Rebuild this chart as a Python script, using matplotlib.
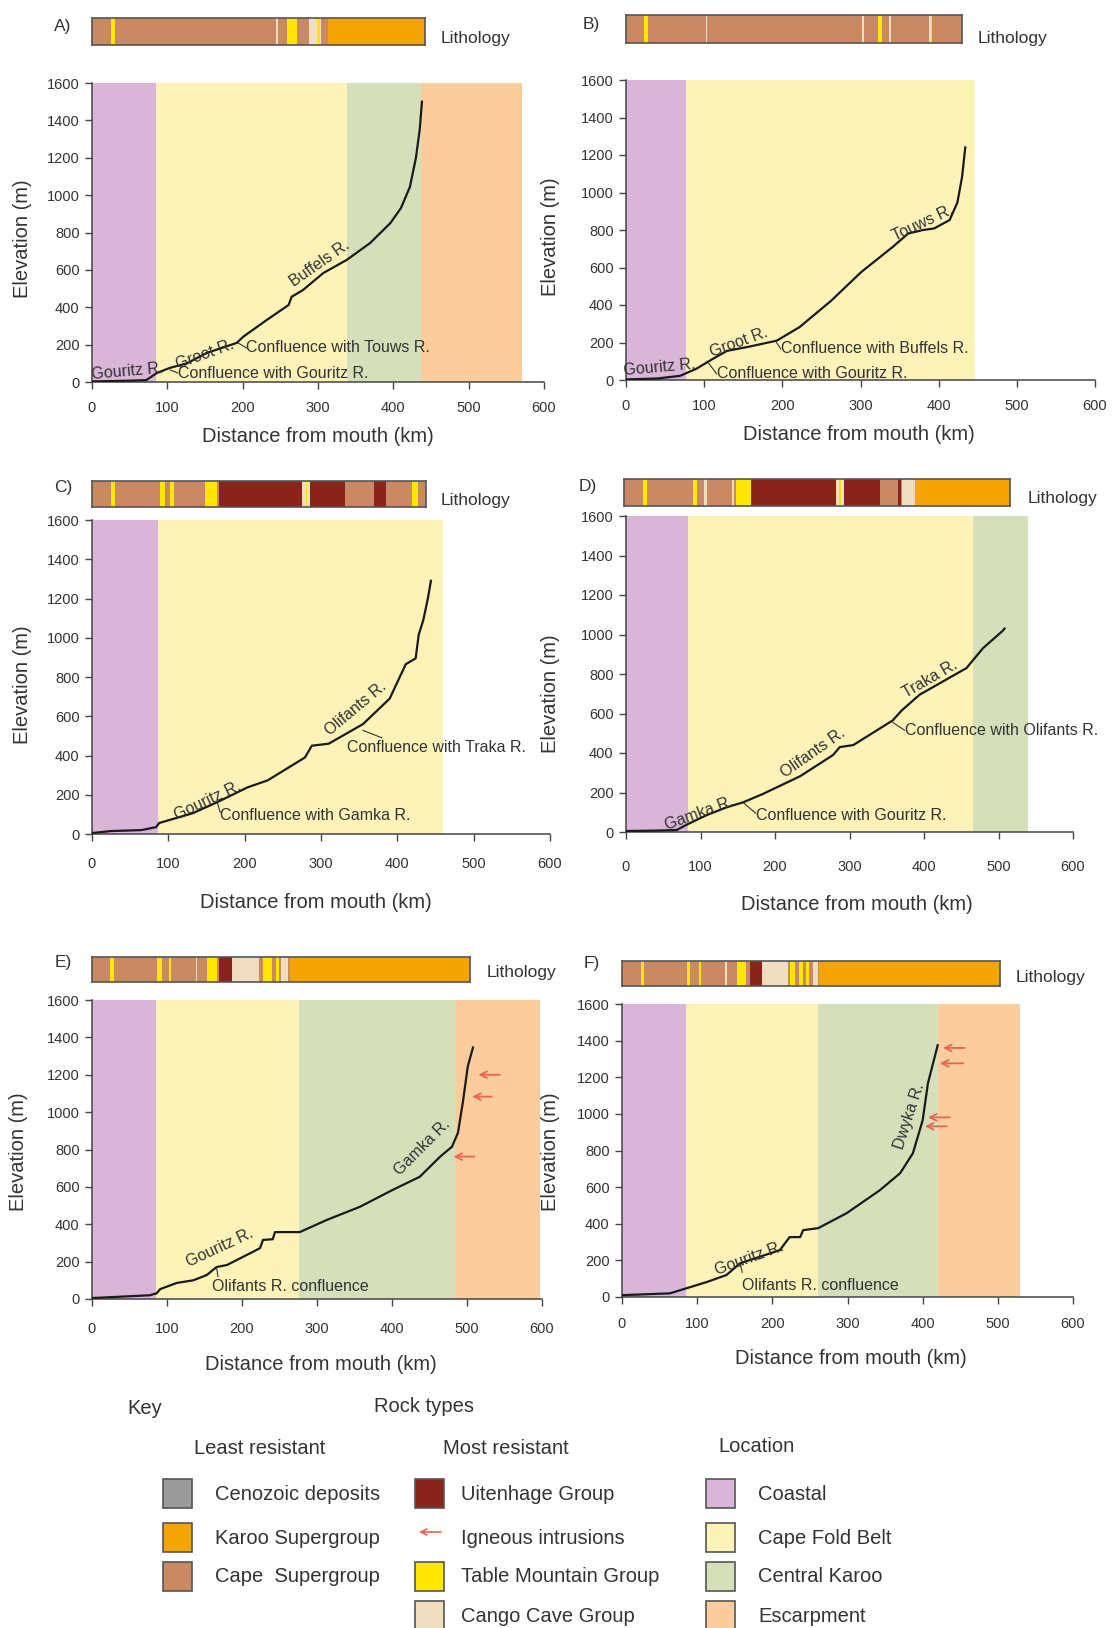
import matplotlib

matplotlib.use("Agg")
import matplotlib.pyplot as plt
from matplotlib.patches import Rectangle

plt.rcParams["font.family"] = ["Liberation Sans", "DejaVu Sans"]

W, H = 1113, 1628
TXT = "#333333"

# --- colours ---
LOC_COLORS = {"coastal": "#d9b5d8", "fold": "#fdf3b9", "karoo": "#d5e0ba", "escarp": "#fbcd9c"}
ROCK_COLORS = {"ceno": "#9b9b9b", "karoo": "#f5a400", "cape": "#c98962",
               "uit": "#8a2319", "tmg": "#ffe600", "cango": "#efdfc0"}
ARROW_RED = "#e8654f"

# --- long profiles (km from mouth, elevation m) ---
A_KM = [0, 40, 72, 86, 103, 126, 152, 192, 201, 232, 261, 265, 280, 307, 338, 369, 396, 410, 422, 430, 435, 438]
A_ELEV = [3, 6, 10, 48, 75, 100, 155, 209, 243, 332, 412, 456, 492, 583, 653, 743, 850, 930, 1044, 1200, 1350, 1500]

B_KM = [0, 40, 69, 90, 110, 129, 160, 193, 222, 262, 301, 341, 361, 380, 394, 414, 424, 430, 434]
B_ELEV = [3, 8, 22, 60, 110, 155, 180, 210, 282, 421, 576, 709, 781, 800, 808, 853, 947, 1085, 1240]

C_KM = [0, 25, 65, 84, 88, 110, 132, 164, 204, 230, 279, 288, 310, 355, 390, 411, 424, 428, 434, 440, 444]
C_ELEV = [5, 15, 20, 35, 56, 81, 106, 162, 238, 273, 390, 450, 460, 560, 690, 865, 895, 1015, 1090, 1200, 1290]

D_KM = [0, 40, 68, 83, 108, 135, 157, 184, 234, 278, 287, 305, 358, 370, 394, 457, 479, 506, 508]
D_ELEV = [5, 7, 10, 40, 85, 125, 150, 193, 283, 390, 430, 440, 565, 615, 695, 830, 930, 1020, 1030]

E_KM = [0, 77, 86, 91, 113, 135, 153, 166, 180, 206, 224, 228, 241, 244, 277, 313, 357, 401, 437, 464,
        480, 488, 495, 501, 508]
E_ELEV = [5, 20, 30, 53, 86, 100, 128, 171, 182, 235, 272, 316, 320, 358, 358, 423, 493, 584, 654, 761,
          815, 890, 1067, 1244, 1346]

F_KM = [0, 64, 86, 113, 139, 157, 210, 223, 237, 241, 261, 299, 343, 370, 387, 400, 407, 420]
F_ELEV = [10, 20, 48, 82, 120, 184, 256, 327, 327, 365, 376, 458, 583, 676, 785, 965, 1167, 1375]

# --- location zones: edges (km) and names ---
A_ZONE_EDGES = [0, 85, 338, 437, 571]
B_ZONE_EDGES = [0, 77, 447]
C_ZONE_EDGES = [0, 86, 460]
D_ZONE_EDGES = [0, 83, 466, 540]
E_ZONE_EDGES = [0, 85, 276, 485, 597]
F_ZONE_EDGES = [0, 85, 261, 420, 529]
ZONE_NAMES = ["coastal", "fold", "karoo", "escarp"]

# --- lithology strips: (start, end) as fraction of strip, rock type; base is Cape Supergroup ---
A_LITH = [(0.057, 0.070, "tmg"), (0.554, 0.559, "cango"), (0.587, 0.616, "tmg"), (0.652, 0.688, "cango"),
          (0.675, 0.685, "tmg"), (0.710, 1.0, "karoo")]
B_LITH = [(0.054, 0.065, "tmg"), (0.238, 0.242, "cango"), (0.702, 0.707, "cango"), (0.751, 0.762, "tmg"),
          (0.783, 0.790, "cango"), (0.901, 0.907, "cango"), (0.907, 0.912, "tmg")]
C_LITH = [(0.056, 0.070, "tmg"), (0.205, 0.219, "tmg"), (0.235, 0.246, "tmg"), (0.337, 0.374, "tmg"),
          (0.380, 0.629, "uit"), (0.629, 0.652, "cango"), (0.640, 0.645, "tmg"), (0.652, 0.757, "uit"),
          (0.843, 0.880, "uit"), (0.957, 0.975, "tmg")]
D_LITH = [(0.050, 0.059, "tmg"), (0.179, 0.190, "tmg"), (0.206, 0.215, "cango"), (0.279, 0.284, "cango"),
          (0.290, 0.330, "tmg"), (0.330, 0.548, "uit"), (0.550, 0.570, "cango"), (0.556, 0.561, "tmg"),
          (0.570, 0.662, "uit"), (0.709, 0.718, "uit"), (0.721, 0.753, "cango"), (0.753, 1.0, "karoo")]
E_LITH = [(0.047, 0.058, "tmg"), (0.173, 0.186, "tmg"), (0.203, 0.209, "tmg"), (0.274, 0.278, "cango"),
          (0.305, 0.332, "tmg"), (0.335, 0.370, "uit"), (0.370, 0.443, "cango"), (0.453, 0.476, "tmg"),
          (0.488, 0.495, "tmg"), (0.500, 0.519, "cango"), (0.524, 1.0, "karoo")]
F_LITH = [(0.049, 0.058, "tmg"), (0.172, 0.181, "tmg"), (0.203, 0.209, "tmg"), (0.272, 0.277, "cango"),
          (0.305, 0.328, "tmg"), (0.338, 0.370, "uit"), (0.370, 0.440, "cango"), (0.445, 0.457, "tmg"),
          (0.468, 0.479, "tmg"), (0.487, 0.496, "tmg"), (0.505, 0.519, "cango"), (0.522, 1.0, "karoo")]

# --- river labels: text, km, m, rotation, ha ---
A_LABELS = [("Gouritz R.", 0, 40, 5, "left"), ("Groot R.", 150, 150, 20, "center"),
            ("Buffels R.", 303, 636, 35, "center"),
            ("Confluence with Touws R.", 205, 182, 0, "left"),
            ("Confluence with Gouritz R.", 114, 48, 0, "left")]
A_LEADERS = [((194, 209), (205, 182)), ((104, 64), (114, 48))]
B_LABELS = [("Gouritz R.", -3, 50, 5, "left"), ("Groot R.", 145, 200, 20, "center"),
            ("Touws R.", 380, 836, 25, "center"),
            ("Confluence with Buffels R.", 198, 166, 0, "left"),
            ("Confluence with Gouritz R.", 116, 33, 0, "left")]
B_LEADERS = [((191, 210), (198, 166)), ((106, 88), (116, 33))]
C_LABELS = [("Gouritz R.", 152, 170, 25, "center"), ("Olifants R.", 345, 640, 40, "center"),
            ("Confluence with Traka R.", 334, 440, 0, "left"),
            ("Confluence with Gamka R.", 168, 96, 0, "left")]
C_LEADERS = [((355, 528), (380, 490)), ((164, 162), (168, 110))]
D_LABELS = [("Gamka R.", 99, 95, 20, "center"), ("Olifants R.", 251, 400, 35, "center"),
            ("Traka R.", 408, 775, 30, "center"),
            ("Confluence with Olifants R.", 374, 515, 0, "left"),
            ("Confluence with Gouritz R.", 174, 85, 0, "left")]
D_LEADERS = [((358, 555), (374, 515)), ((157, 150), (174, 95))]
E_LABELS = [("Gouritz R.", 171, 275, 25, "center"), ("Gamka R.", 440, 810, 45, "center"),
            ("Olifants R. confluence", 160, 65, 0, "left")]
E_LEADERS = [((166, 171), (168, 120))]
F_LABELS = [("Gouritz R.", 170, 210, 20, "center"), ("Dwyka R.", 383, 990, 72, "center"),
            ("Olifants R. confluence", 160, 65, 0, "left")]
F_LEADERS = [((157, 184), (160, 135))]

# --- igneous intrusion arrows: head km, elevation m, tail km ---
E_ARROWS = [(515, 1200, 544), (507, 1083, 533), (482, 762, 510)]
F_ARROWS = [(427, 1360, 456), (423, 1276, 454), (407, 981, 436), (403, 932, 432)]

# --- layout (pixels): plot box, strip box, text anchors ---
PANELS = [
    dict(tag="A)", km=A_KM, el=A_ELEV, zones=A_ZONE_EDGES, lith=A_LITH, labels=A_LABELS, leaders=A_LEADERS,
         arrows=[], box=(92, 83, 544, 382), strip=(92, 18, 425, 45), tag_xy=(63, 26), lith_xy=(441, 38),
         xl=(318, 437), yl=(23, 239), pad=8.5),
    dict(tag="B)", km=B_KM, el=B_ELEV, zones=B_ZONE_EDGES, lith=B_LITH, labels=B_LABELS, leaders=B_LEADERS,
         arrows=[], box=(626, 80, 1095, 380), strip=(626, 15, 962, 43), tag_xy=(591, 25), lith_xy=(978, 38),
         xl=(859, 434), yl=(550, 237), pad=8.5),
    dict(tag="C)", km=C_KM, el=C_ELEV, zones=C_ZONE_EDGES, lith=C_LITH, labels=C_LABELS, leaders=C_LEADERS,
         arrows=[], box=(92, 520, 550, 834), strip=(92, 481, 426, 507), tag_xy=(63, 488), lith_xy=(441, 500),
         xl=(316, 902), yl=(23, 685), pad=11.5),
    dict(tag="D)", km=D_KM, el=D_ELEV, zones=D_ZONE_EDGES, lith=D_LITH, labels=D_LABELS, leaders=D_LEADERS,
         arrows=[], box=(626, 516, 1073, 832), strip=(624, 479, 1010, 506), tag_xy=(588, 486), lith_xy=(1028, 498),
         xl=(857, 904), yl=(550, 694), pad=15),
    dict(tag="E)", km=E_KM, el=E_ELEV, zones=E_ZONE_EDGES, lith=E_LITH, labels=E_LABELS, leaders=E_LEADERS,
         arrows=E_ARROWS, box=(92, 1000, 542, 1299), strip=(92, 957, 470, 982), tag_xy=(63, 963),
         lith_xy=(487, 973), xl=(321, 1365), yl=(19, 1152), pad=11.5),
    dict(tag="F)", km=F_KM, el=F_ELEV, zones=F_ZONE_EDGES, lith=F_LITH, labels=F_LABELS, leaders=F_LEADERS,
         arrows=F_ARROWS, box=(622, 1004, 1073, 1297), strip=(622, 961, 1000, 986), tag_xy=(592, 964),
         lith_xy=(1016, 977), xl=(851, 1359), yl=(550, 1152), pad=9.5),
]


def px_axes(fig, l, t, r, b):
    return fig.add_axes([l / W, 1 - b / H, (r - l) / W, (b - t) / H])


def ftext(fig, x, y, s, **kw):
    kw.setdefault("color", TXT)
    fig.text(x / W, 1 - y / H, s, **kw)


fig = plt.figure(figsize=(W / 100, H / 100), dpi=100)

for p in PANELS:
    # lithology strip
    sax = px_axes(fig, *p["strip"])
    sax.set_xlim(0, 1)
    sax.set_ylim(0, 1)
    sax.add_patch(Rectangle((0, 0), 1, 1, color=ROCK_COLORS["cape"], lw=0))
    for s0, s1, rock in p["lith"]:
        sax.add_patch(Rectangle((s0, 0), s1 - s0, 1, color=ROCK_COLORS[rock], lw=0))
    sax.set_xticks([])
    sax.set_yticks([])
    for sp in sax.spines.values():
        sp.set_color("#555555")
        sp.set_linewidth(1.2)
    ftext(fig, *p["tag_xy"], p["tag"], fontsize=12.5, ha="center", va="center")
    ftext(fig, *p["lith_xy"], "Lithology", fontsize=12.5, ha="left", va="center")

    # profile plot
    ax = px_axes(fig, *p["box"])
    edges = p["zones"]
    for i in range(len(edges) - 1):
        ax.axvspan(edges[i], edges[i + 1], color=LOC_COLORS[ZONE_NAMES[i]], lw=0, zorder=0)
    ax.plot(p["km"], p["el"], color="#1a1a1a", lw=1.6, zorder=3)
    ax.set_xlim(0, 600)
    ax.set_ylim(0, 1600)
    ax.set_xticks(range(0, 601, 100))
    ax.set_yticks(range(0, 1601, 200))
    ax.tick_params(axis="both", colors="#444444", labelcolor=TXT, labelsize=10.5, length=5, width=1)
    ax.tick_params(axis="x", pad=p["pad"])
    ax.tick_params(axis="y", pad=4)
    for side in ("top", "right"):
        ax.spines[side].set_visible(False)
    for side in ("left", "bottom"):
        ax.spines[side].set_color("#444444")
        ax.spines[side].set_linewidth(1.1)
    ax.patch.set_alpha(0)

    for s, x, y, rot, ha in p["labels"]:
        ax.text(x, y, s, fontsize=11.5, color=TXT, rotation=rot, ha=ha, va="center",
                rotation_mode="anchor", zorder=4)
    for (x0, y0), (x1, y1) in p["leaders"]:
        ax.plot([x0, x1], [y0, y1], color="#333333", lw=0.8, zorder=4)
    for xh, y, xt in p["arrows"]:
        ax.annotate("", xy=(xh, y), xytext=(xt, y),
                    arrowprops=dict(arrowstyle="->", color=ARROW_RED, lw=1.3,
                                    shrinkA=0, shrinkB=0, mutation_scale=12), zorder=5)

    ftext(fig, *p["xl"], "Distance from mouth (km)", fontsize=14.5, ha="center", va="center")
    ftext(fig, *p["yl"], "Elevation (m)", fontsize=14.5, ha="center", va="center", rotation=90)

# --- key ---
KEY_ROCKS_LEAST = [("Cenozoic deposits", "ceno"), ("Karoo Supergroup", "karoo"), ("Cape  Supergroup", "cape")]
KEY_ROCKS_MOST = [("Uitenhage Group", "uit"), ("Igneous intrusions", None), ("Table Mountain Group", "tmg"),
                  ("Cango Cave Group", "cango")]
KEY_LOCATIONS = [("Coastal", "coastal"), ("Cape Fold Belt", "fold"), ("Central Karoo", "karoo"),
                 ("Escarpment", "escarp")]
KEY_ROWS_Y = [1494, 1538, 1577, 1616]

ftext(fig, 145, 1409, "Key", fontsize=14.5, ha="center", va="center")
ftext(fig, 424, 1407, "Rock types", fontsize=14.5, ha="center", va="center")
ftext(fig, 260, 1448, "Least resistant", fontsize=14.5, ha="center", va="center")
ftext(fig, 506, 1448, "Most resistant", fontsize=14.5, ha="center", va="center")
ftext(fig, 757, 1447, "Location", fontsize=14.5, ha="center", va="center")

kax = fig.add_axes([0, 0, 1, 1])
kax.set_xlim(0, W)
kax.set_ylim(H, 0)
kax.axis("off")


def key_column(items, colors, x_sq, x_txt):
    for (name, code), y in zip(items, KEY_ROWS_Y):
        if code is None:
            kax.annotate("", xy=(x_sq + 4, y - 6), xytext=(x_sq + 26, y - 6),
                         arrowprops=dict(arrowstyle="->", color=ARROW_RED, lw=1.2,
                                         shrinkA=0, shrinkB=0, mutation_scale=11))
        else:
            kax.add_patch(Rectangle((x_sq, y - 15), 29, 29, facecolor=colors[code],
                                    edgecolor="#555555", lw=1.2))
        kax.text(x_txt, y, name, fontsize=14.5, color=TXT, ha="left", va="center")


key_column(KEY_ROCKS_LEAST, ROCK_COLORS, 163, 215)
key_column(KEY_ROCKS_MOST, ROCK_COLORS, 415, 461)
key_column(KEY_LOCATIONS, LOC_COLORS, 706, 758)

fig.savefig("out.png", dpi=100)
